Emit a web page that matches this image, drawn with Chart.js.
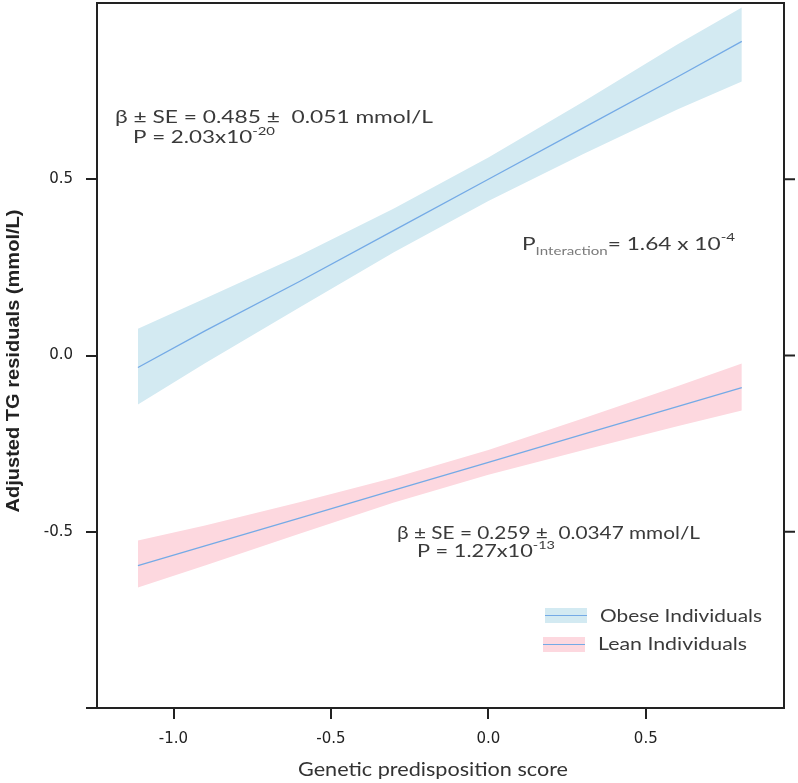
<!DOCTYPE html>
<html>
<head>
<meta charset="utf-8">
<script src="https://cdn.jsdelivr.net/npm/chart.js@4.4.1/dist/chart.umd.min.js"></script>
<style>
  html, body { margin: 0; padding: 0; background: #ffffff; }
  #wrap { width: 798px; height: 783px; }
</style>
</head>
<body>
<div id="wrap"><canvas id="c" width="798" height="783"></canvas></div>
<script>
// ---- data ----
const xValues    = [-1.113, -0.9, -0.6, -0.3, 0.0, 0.3, 0.6, 0.805];
const obeseFit   = [-0.034, 0.070, 0.210, 0.355, 0.500, 0.645, 0.790, 0.891];
const obeseUpper = [0.076, 0.162, 0.284, 0.417, 0.562, 0.719, 0.882, 0.987];
const obeseLower = [-0.139, -0.022, 0.136, 0.293, 0.438, 0.571, 0.698, 0.777];
const leanFit    = [-0.596, -0.540, -0.461, -0.382, -0.303, -0.224, -0.145, -0.091];
const leanUpper  = [-0.525, -0.482, -0.416, -0.347, -0.268, -0.179, -0.087, -0.023];
const leanLower  = [-0.658, -0.596, -0.506, -0.417, -0.338, -0.269, -0.201, -0.156];
const seriesNames = ['Obese Individuals', 'Lean Individuals'];
const xTickValues = [-1.0, -0.5, 0.0, 0.5];
const yTickValues = [-1.0, -0.5, 0.0, 0.5];
const xTitle = 'Genetic predisposition score';
const yTitle = 'Adjusted TG residuals (mmol/L)';

const toPts = (ys) => xValues.map((x, i) => ({ x: x, y: ys[i] }));

const obeseBand = '#d3eaf2';
const leanBand  = '#fdd8df';
const lineBlue  = '#74aae6';
const axisCol   = '#222222';
const textCol   = '#3a3a3a';

const annFont = 'Lato, "Open Sans", sans-serif';
const tickFont = '"DejaVu Sans", "Liberation Sans", sans-serif';

function partsWidth(ctx, parts) {
  let w = 0;
  parts.forEach(p => { ctx.font = p.font; w += ctx.measureText(p.t).width; });
  return w;
}

// draws a run of text pieces, stretched horizontally to a target width
function drawRich(ctx, x, y, parts, targetW) {
  const sx = targetW / partsWidth(ctx, parts);
  ctx.save();
  ctx.translate(x, y);
  ctx.scale(sx, 1);
  let cx = 0;
  parts.forEach(p => {
    ctx.font = p.font;
    ctx.fillStyle = p.color || textCol;
    ctx.fillText(p.t, cx, p.dy || 0);
    cx += ctx.measureText(p.t).width;
  });
  ctx.restore();
}

const decorPlugin = {
  id: 'decor',
  afterDraw(chart) {
    const ctx = chart.ctx;
    const a = chart.chartArea;
    const ys = chart.scales.y;
    ctx.save();
    // top and right frame lines
    ctx.strokeStyle = axisCol;
    ctx.lineWidth = 2;
    ctx.beginPath();
    ctx.moveTo(a.left - 1, a.top);
    ctx.lineTo(a.right, a.top);
    ctx.lineTo(a.right, a.bottom + 1);
    ctx.stroke();
    // right-side ticks
    yTickValues.filter(v => v > -0.99).forEach(v => {
      const py = ys.getPixelForValue(v);
      ctx.beginPath();
      ctx.moveTo(a.right, py);
      ctx.lineTo(a.right + 11, py);
      ctx.stroke();
    });

    ctx.textBaseline = 'alphabetic';
    ctx.textAlign = 'left';
    const big = '18px ' + annFont;
    const small = '12px ' + annFont;
    // obese annotation
    drawRich(ctx, a.left + 18, 123, [{ t: 'β ± SE = 0.485 ±  0.051 mmol/L', font: big }], 318);
    drawRich(ctx, a.left + 36, 143, [
      { t: 'P = 2.03x10', font: big },
      { t: '-20', font: small, dy: -8 }
    ], 142);
    // interaction
    drawRich(ctx, 522, 250, [
      { t: 'P', font: big },
      { t: 'Interaction', font: small, dy: 5, color: '#7a7a7a' },
      { t: '= 1.64 x 10', font: big },
      { t: '-4', font: small, dy: -9 }
    ], 213);
    // lean annotation
    drawRich(ctx, 397, 539, [{ t: 'β ± SE = 0.259 ±  0.0347 mmol/L', font: big }], 303);
    drawRich(ctx, 417, 557, [
      { t: 'P = 1.27x10', font: big },
      { t: '-13', font: small, dy: -8 }
    ], 138);

    // legend
    const legend = [
      { name: seriesNames[0], band: obeseBand, x: 545, y: 608, tx: 600, ty: 622, w: 162 },
      { name: seriesNames[1], band: leanBand, x: 543, y: 637, tx: 598, ty: 650, w: 149 }
    ];
    legend.forEach(l => {
      ctx.fillStyle = l.band;
      ctx.fillRect(l.x, l.y, 42, 15);
      ctx.strokeStyle = lineBlue;
      ctx.lineWidth = 1.2;
      ctx.beginPath();
      ctx.moveTo(l.x, l.y + 7.5);
      ctx.lineTo(l.x + 42, l.y + 7.5);
      ctx.stroke();
      drawRich(ctx, l.tx, l.ty, [{ t: l.name, font: '17px ' + annFont }], l.w);
    });

    // x axis title
    drawRich(ctx, 433 - 135, 776, [{ t: xTitle, font: '20px ' + annFont, color: '#333333' }], 270);

    // y axis title
    ctx.save();
    ctx.translate(19, 361);
    ctx.rotate(-Math.PI / 2);
    drawRich(ctx, -151.5, 0, [{ t: yTitle, font: 'bold 18px "Liberation Sans", Arial, sans-serif', color: '#222222' }], 303);
    ctx.restore();
    ctx.restore();
  }
};

const bandDefaults = { pointRadius: 0, borderWidth: 0, tension: 0, order: 2 };
const zeroPad = (s) => { s.paddingTop = 0; s.paddingBottom = 0; s.paddingLeft = 0; s.paddingRight = 0; };

new Chart(document.getElementById('c'), {
  type: 'line',
  data: {
    datasets: [
      Object.assign({ label: 'obeseUpper', data: toPts(obeseUpper), fill: '+1', backgroundColor: obeseBand, borderColor: obeseBand }, bandDefaults),
      Object.assign({ label: 'obeseLower', data: toPts(obeseLower), fill: false, borderColor: obeseBand }, bandDefaults),
      Object.assign({ label: 'leanUpper', data: toPts(leanUpper), fill: '+1', backgroundColor: leanBand, borderColor: leanBand }, bandDefaults),
      Object.assign({ label: 'leanLower', data: toPts(leanLower), fill: false, borderColor: leanBand }, bandDefaults),
      { label: seriesNames[0], data: toPts(obeseFit), borderColor: lineBlue, borderWidth: 1.3, pointRadius: 0, fill: false, tension: 0, order: 0 },
      { label: seriesNames[1], data: toPts(leanFit), borderColor: lineBlue, borderWidth: 1.3, pointRadius: 0, fill: false, tension: 0, order: 0 }
    ]
  },
  options: {
    responsive: false,
    animation: false,
    layout: { padding: { top: 3, right: 14, left: 0, bottom: 0 } },
    plugins: { legend: { display: false }, tooltip: { enabled: false } },
    scales: {
      x: {
        type: 'linear',
        min: -1.243,
        max: 0.939,
        afterFit(s) { s.height = 75; zeroPad(s); },
        afterBuildTicks(s) { s.ticks = xTickValues.map(v => ({ value: v })); },
        ticks: {
          includeBounds: false,
          padding: 11,
          color: axisCol,
          font: { family: tickFont, size: 15 },
          callback: (v) => Number(v).toFixed(1)
        },
        grid: { drawOnChartArea: false, drawTicks: true, tickLength: 11, color: axisCol, lineWidth: 2 },
        border: { display: true, color: axisCol, width: 2 }
      },
      y: {
        type: 'linear',
        min: -1,
        max: 1,
        afterFit(s) { s.width = 97; zeroPad(s); },
        afterBuildTicks(s) { s.ticks = yTickValues.map(v => ({ value: v })); },
        ticks: {
          padding: 13,
          color: axisCol,
          font: { family: tickFont, size: 15 },
          callback: (v) => (v <= -0.99 ? '' : Number(v).toFixed(1))
        },
        grid: { drawOnChartArea: false, drawTicks: true, tickLength: 11, color: axisCol, lineWidth: 2 },
        border: { display: true, color: axisCol, width: 2 }
      }
    }
  },
  plugins: [decorPlugin]
});
</script>
</body>
</html>
